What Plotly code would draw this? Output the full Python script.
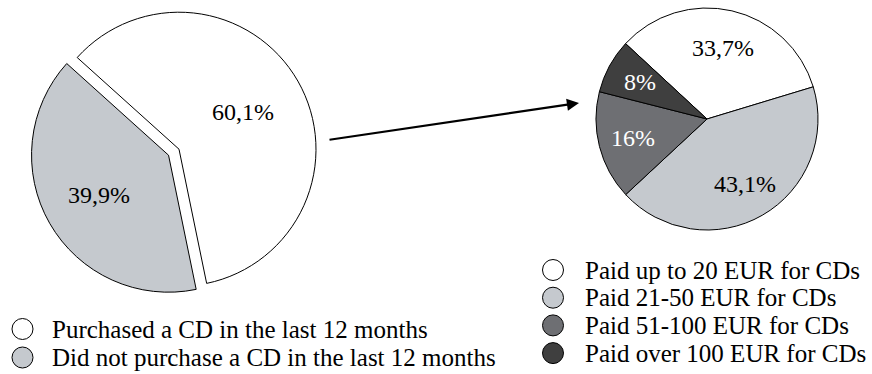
import math
import plotly.graph_objects as go

# CD purchase share (left pie) and spending breakdown of buyers (right pie)
purchase_labels = ["Purchased a CD in the last 12 months",
                   "Did not purchase a CD in the last 12 months"]
purchase_values = [60.1, 39.9]
purchase_colors = ["#ffffff", "#c5c9ce"]
purchase_text_colors = ["#000000", "#000000"]

spend_labels = ["Paid up to 20 EUR for CDs", "Paid 21-50 EUR for CDs",
                "Paid 51-100 EUR for CDs", "Paid over 100 EUR for CDs"]
spend_values = [33.7, 43.1, 16, 8]
spend_colors = ["#ffffff", "#c5c9ce", "#6e6f73", "#3f3f3f"]
spend_text_colors = ["#000000", "#000000", "#ffffff", "#ffffff"]

W, H = 872, 374
FONT = "Liberation Serif"


def fmt(v):
    return f"{v:g}".replace(".", ",") + "%"


def px_domain(cx, cy, half):
    return dict(x=[(cx - half) / W, (cx + half) / W],
                y=[1 - (cy + half) / H, 1 - (cy - half) / H])


fig = go.Figure()
shapes = []
annotations = []


def add_pie(labels, values, colors, text_colors, cx, cy, r, rotation,
            pulls, label_radius):
    max_pull = max(pulls)
    fig.add_trace(go.Pie(
        labels=labels, values=values, textinfo="none",
        marker=dict(colors=colors, line=dict(color="#000000", width=1)),
        pull=pulls, sort=False, direction="clockwise", rotation=rotation,
        domain=px_domain(cx, cy, r * (1 + max_pull)),
        hovertext=[fmt(v) for v in values], hoverinfo="label+text",
        showlegend=False,
    ))
    # value labels along each slice's bisector
    total = sum(values)
    start = rotation
    for v, tc, p, f in zip(values, text_colors, pulls, label_radius):
        span = v / total * 360
        mid = math.radians(start + span / 2)
        ox = cx + p * r * math.sin(mid)
        oy = cy - p * r * math.cos(mid)
        lx = ox + f * r * math.sin(mid)
        ly = oy - f * r * math.cos(mid)
        annotations.append(dict(
            text=fmt(v), xref="paper", yref="paper",
            x=lx / W, y=1 - ly / H, xanchor="center", yanchor="middle",
            showarrow=False, font=dict(family=FONT, size=24, color=tc),
        ))
        start += span


add_pie(purchase_labels, purchase_values, purchase_colors,
        purchase_text_colors, 179, 149.2, 137, -48, [0, 0.088], [0.54, 0.585])
add_pie(spend_labels, spend_values, spend_colors, spend_text_colors,
        707, 119, 111, -47.2, [0, 0, 0, 0], [0.66, 0.68, 0.69, 0.69])


def legend_block(labels, colors, x_circle, x_text, y_first, step):
    for i, (lab, col) in enumerate(zip(labels, colors)):
        y = y_first + i * step
        shapes.append(dict(
            type="circle", xref="paper", yref="paper",
            x0=(x_circle - 10.5) / W, x1=(x_circle + 10.5) / W,
            y0=1 - (y + 10.5) / H, y1=1 - (y - 10.5) / H,
            fillcolor=col, line=dict(color="#000000", width=1),
        ))
        annotations.append(dict(
            text=lab, xref="paper", yref="paper",
            x=x_text / W, y=1 - y / H, xanchor="left", yanchor="middle",
            showarrow=False, font=dict(family=FONT, size=25, color="#000000"),
        ))


legend_block(purchase_labels, purchase_colors, 22.5, 50, 329, 28.5)
legend_block(spend_labels, spend_colors, 553, 583, 270, 27.7)

# arrow linking the buyers slice to its breakdown
annotations.append(dict(
    x=579 / W, y=1 - 103 / H, xref="paper", yref="paper",
    ax=-251, ay=37, text="", showarrow=True,
    arrowhead=2, arrowsize=1.1, arrowwidth=2.2, arrowcolor="#000000",
))

fig.update_layout(
    width=W, height=H, margin=dict(l=0, r=0, t=0, b=0),
    paper_bgcolor="#ffffff", plot_bgcolor="#ffffff",
    shapes=shapes, annotations=annotations,
    font=dict(family=FONT),
)

fig.write_html("out.html")
